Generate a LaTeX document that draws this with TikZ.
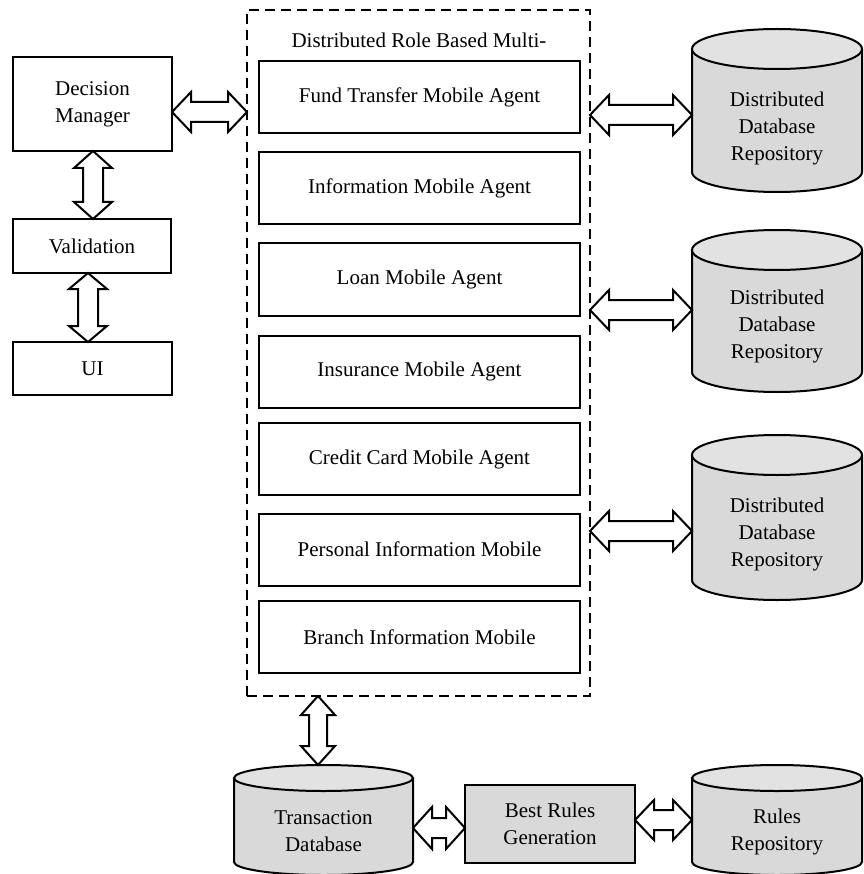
\documentclass[tikz,border=0pt]{standalone}
\usepackage{fontspec}
\setmainfont{Liberation Serif}
\usetikzlibrary{calc}
\definecolor{cylfill}{RGB}{217,217,217}
\definecolor{cyltopfill}{RGB}{226,226,226}
\tikzset{
 every node/.append style={outer sep=0pt},
 txt/.style={font=\fontsize{21}{27}\selectfont, align=center, inner sep=0pt},
 plainbox/.style={txt, draw, line width=2pt},
 agentbox/.style={plainbox, minimum width=321pt, minimum height=72pt},
 mabox/.style={draw, line width=2pt, dash pattern=on 10pt off 6pt},
 dbl hl/.store in=\dblhl, dbl hw/.store in=\dblhw, dbl sw/.store in=\dblsw,
 dbl hl=19pt, dbl hw=20pt, dbl sw=10pt,
 dblarrow/.style={draw, line width=2pt, fill=white, line join=miter},
 hdbl/.style={to path={let \p1=(\tikztostart), \p2=(\tikztotarget) in
   (\x1,\y1) -- ++(\dblhl,\dblhw) -- ++(0pt,\dblsw-\dblhw) -- (\x2-\dblhl,\y1+\dblsw) -- ++(0pt,\dblhw-\dblsw) -- (\x2,\y1) -- ++(-\dblhl,-\dblhw) -- ++(0pt,\dblhw-\dblsw) -- (\x1+\dblhl,\y1-\dblsw) -- ++(0pt,\dblsw-\dblhw) -- cycle}},
 vdbl/.style={to path={let \p1=(\tikztostart), \p2=(\tikztotarget) in
   (\x1,\y1) -- ++(-\dblhw,-\dblhl) -- ++(\dblhw-\dblsw,0pt) -- (\x1-\dblsw,\y2+\dblhl) -- ++(\dblsw-\dblhw,0pt) -- (\x1,\y2) -- ++(\dblhw,\dblhl) -- ++(\dblsw-\dblhw,0pt) -- (\x1+\dblsw,\y1-\dblhl) -- ++(\dblhw-\dblsw,0pt) -- cycle}},
}
% name, cx, rx, top-centre y, bottom-centre y, ry, label y, label
\newcommand\dbcyl[8]{%
 \fill[cylfill] (#2-#3,#4) -- (#2-#3,#5) arc[start angle=180,end angle=360,x radius=#3pt,y radius=#6pt] -- (#2+#3,#4) -- cycle;
 \draw[line width=2pt] (#2-#3,#4) -- (#2-#3,#5) arc[start angle=180,end angle=360,x radius=#3pt,y radius=#6pt] -- (#2+#3,#4);
 \filldraw[fill=cyltopfill, line width=2pt] (#2,#4) ellipse[x radius=#3pt, y radius=#6pt];
 \node[txt, minimum width={2*#3pt}] (#1) at (#2,#7) {#8};
 \coordinate (#1top) at (#2,#4-#6);
}
\begin{document}
\begin{tikzpicture}[x=1pt,y=-1pt]
\useasboundingbox (0,0) rectangle (863,874);

% left column
\node[plainbox, minimum width=159pt, minimum height=94pt] (dm) at (92.5,104) {Decision\\Manager};
\node[plainbox, minimum width=158pt, minimum height=54pt] (val) at (92,246) {Validation};
\node[plainbox, minimum width=159pt, minimum height=53pt] (ui) at (92.5,368.5) {UI};

% multi agent container
\node[mabox, minimum width=343pt, minimum height=686pt] (mas) at (418.5,353) {};
\node[txt] (title) at (419,40) {Distributed Role Based Multi-};
\node[agentbox] (fund) at (419.5,97) {Fund Transfer Mobile Agent};
\node[agentbox] (info) at (419.5,188) {Information Mobile Agent};
\node[agentbox] (loan) at (419.5,279.5) {Loan Mobile Agent};
\node[agentbox] (ins) at (419.5,371.5) {Insurance Mobile Agent};
\node[agentbox] (cc) at (419.5,459) {Credit Card Mobile Agent};
\node[agentbox] (pers) at (419.5,549.5) {Personal Information Mobile};
\node[agentbox] (branch) at (419.5,637) {Branch Information Mobile};

% databases
\dbcyl{db1}{777}{85}{49}{172}{20}{128}{Distributed\\Database\\Repository}
\dbcyl{db2}{777}{85}{250}{372}{20}{326}{Distributed\\Database\\Repository}
\dbcyl{db3}{777}{85}{455}{580}{20}{534}{Distributed\\Database\\Repository}
\dbcyl{trans}{323.5}{89.5}{778}{862}{13}{831}{Transaction\\Database}
\dbcyl{rules}{777}{85}{778}{862}{13}{832}{Rules\\Repository}

\node[plainbox, fill=cylfill, minimum width=170pt, minimum height=78pt] (best) at (550,824) {Best Rules\\Generation};

% connectors
\draw[dblarrow] (dm.east |- 0,112) to[hdbl] (mas.west |- 0,112);
\draw[dblarrow, dbl hl=17pt, dbl hw=19pt] (dm.south -| 93,0) to[vdbl] (val.north -| 93,0);
\draw[dblarrow, dbl hl=16pt, dbl hw=19pt] (val.south -| 88,0) to[vdbl] (ui.north -| 88,0);
\draw[dblarrow] (mas.east |- 0,115) to[hdbl] (db1.west |- 0,115);
\draw[dblarrow] (mas.east |- 0,310) to[hdbl] (db2.west |- 0,310);
\draw[dblarrow] (mas.east |- 0,531) to[hdbl] (db3.west |- 0,531);
\draw[dblarrow, dbl hw=17pt, dbl sw=9pt] (mas.south -| 318,0) to[vdbl] (transtop -| 318,0);
\draw[dblarrow, dbl hw=21pt] (trans.east |- 0,828) to[hdbl] (best.west |- 0,828);
\draw[dblarrow] (best.east |- 0,820) to[hdbl] (rules.west |- 0,820);
\end{tikzpicture}
\end{document}
